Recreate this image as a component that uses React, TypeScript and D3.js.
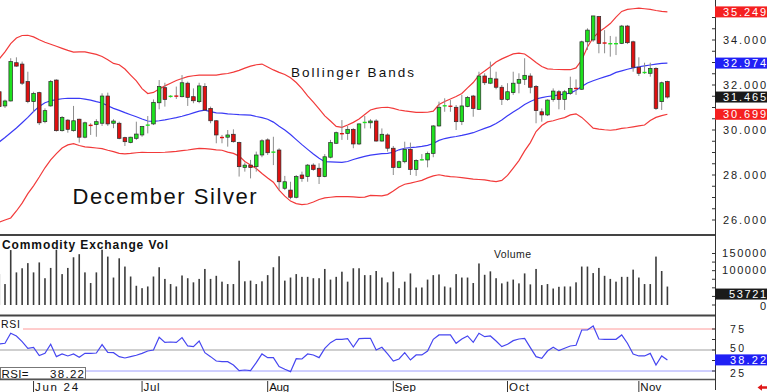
import React from "react";
import * as d3 from "d3";

// bar index -1 is the partly hidden candle at the left edge
const firstIndex = -1;
const lastIndex = 116;

const opens = [
  31.70, 31.07, 31.29, 32.99, 32.93, 32.15, 31.26, 31.66, 30.37, 31.07,
  32.22, 29.97, 30.44, 29.97, 30.48, 29.68, 30.21, 30.24, 30.30, 31.51,
  30.30, 30.30, 29.66, 29.44, 29.63, 29.78, 30.15, 30.27, 31.21, 31.88,
  31.48, 31.51, 31.48, 32.08, 31.48, 31.26, 31.93, 30.96, 30.41, 29.67,
  29.68, 29.81, 29.44, 28.34, 28.44, 28.37, 28.89, 29.56, 28.99, 29.11,
  27.41, 27.33, 27.01, 28.00, 27.93, 28.44, 28.30, 27.93, 28.79, 29.41,
  29.84, 29.85, 30.03, 29.38, 30.31, 30.32, 30.40, 29.51, 29.78, 29.19,
  28.34, 28.59, 29.14, 28.25, 28.65, 28.67, 28.96, 30.18, 31.05, 31.06,
  31.01, 30.37, 31.04, 31.51, 30.92, 32.40, 32.08, 32.27, 31.90, 31.36,
  31.66, 32.08, 32.25, 32.40, 31.93, 30.81, 30.67, 31.36, 31.70, 31.36,
  31.63, 31.85, 31.81, 33.92, 34.00, 35.04, 33.87, 33.81, 33.81, 33.85,
  34.62, 33.92, 32.79, 32.54, 32.52, 32.74, 31.26, 32.15,
];
const highs = [
  31.85, 31.35, 33.19, 33.23, 33.04, 32.59, 31.70, 31.70, 30.96, 32.22,
  32.25, 30.62, 30.48, 31.07, 30.50, 30.37, 30.30, 30.48, 31.63, 31.66,
  30.48, 30.37, 29.70, 29.70, 30.37, 30.18, 30.62, 31.36, 32.22, 32.10,
  31.55, 31.93, 32.44, 32.15, 31.85, 32.10, 32.08, 31.04, 30.44, 29.78,
  30.00, 30.03, 29.48, 28.55, 28.67, 29.04, 29.59, 29.63, 29.70, 29.19,
  27.96, 27.70, 28.00, 28.15, 28.49, 28.52, 28.52, 28.93, 29.56, 29.93,
  30.44, 30.18, 30.08, 30.30, 30.62, 30.48, 30.48, 30.07, 29.85, 29.29,
  28.64, 29.48, 29.44, 28.70, 28.93, 29.04, 30.22, 31.26, 31.41, 31.33,
  31.11, 31.56, 31.51, 31.56, 32.59, 32.52, 33.04, 32.59, 32.00, 32.08,
  32.59, 32.52, 33.19, 32.52, 32.00, 30.96, 31.36, 31.85, 31.78, 31.78,
  32.37, 32.25, 33.97, 34.52, 35.07, 35.07, 34.44, 34.18, 34.15, 34.67,
  34.67, 33.97, 33.23, 32.99, 32.99, 32.79, 32.15, 32.19,
];
const lows = [
  30.95, 30.98, 31.27, 32.81, 32.00, 31.19, 30.81, 30.22, 30.30, 31.04,
  29.93, 29.93, 29.88, 29.93, 29.44, 29.63, 29.78, 29.70, 30.18, 30.18,
  30.08, 29.59, 29.29, 29.41, 29.56, 29.70, 29.85, 30.22, 30.92, 31.04,
  31.44, 31.38, 31.45, 31.07, 31.19, 31.19, 30.86, 30.30, 29.41, 29.41,
  29.26, 29.44, 27.93, 28.15, 27.85, 28.15, 28.79, 28.89, 28.44, 27.33,
  27.33, 26.92, 26.96, 27.70, 27.70, 28.19, 27.60, 27.90, 28.74, 29.38,
  29.56, 29.56, 29.19, 29.33, 30.07, 30.07, 29.48, 29.48, 29.04, 28.00,
  28.30, 28.52, 28.00, 27.96, 28.64, 28.34, 28.79, 30.15, 30.81, 30.81,
  30.00, 30.22, 31.01, 30.59, 30.89, 32.00, 32.04, 31.81, 31.11, 31.30,
  31.56, 31.63, 32.00, 31.63, 30.30, 30.37, 30.62, 31.26, 30.92, 30.89,
  31.56, 31.56, 31.78, 33.56, 33.92, 33.41, 33.41, 33.26, 33.33, 33.82,
  33.82, 32.59, 32.40, 32.49, 32.37, 30.89, 30.89, 31.40,
];
const closes = [
  31.04, 31.29, 33.04, 32.84, 32.08, 31.26, 31.63, 30.32, 30.86, 32.15,
  29.97, 30.56, 30.03, 30.41, 29.68, 30.32, 30.15, 30.37, 31.51, 30.27,
  30.40, 29.63, 29.48, 29.68, 29.82, 30.15, 30.22, 31.23, 31.93, 31.36,
  31.50, 31.47, 32.10, 31.45, 31.30, 31.96, 30.89, 30.41, 29.78, 29.61,
  29.78, 29.48, 28.37, 28.44, 28.33, 28.89, 29.52, 28.99, 29.02, 27.70,
  27.70, 27.01, 27.93, 27.85, 28.44, 28.25, 27.93, 28.81, 29.44, 29.88,
  29.81, 30.03, 29.38, 30.27, 30.34, 30.40, 29.51, 29.81, 29.19, 28.34,
  28.59, 29.14, 28.25, 28.64, 28.68, 28.96, 30.18, 31.01, 31.08, 31.02,
  30.37, 31.07, 31.45, 30.96, 32.40, 32.10, 32.30, 31.90, 31.36, 31.70,
  32.08, 32.25, 32.43, 31.90, 30.86, 30.67, 31.33, 31.73, 31.36, 31.70,
  31.85, 31.78, 33.92, 34.44, 35.07, 33.85, 33.83, 33.84, 33.84, 34.62,
  33.88, 32.79, 32.52, 32.56, 32.74, 30.96, 32.10, 31.465,
];

const upperBand = [
  33.16, 33.47, 33.84, 34.09, 34.20, 34.21, 34.14, 34.01, 33.90, 33.81,
  33.72, 33.63, 33.54, 33.46, 33.47, 33.47, 33.42, 33.36, 33.27, 33.12,
  32.96, 32.90, 32.71, 32.44, 32.18, 31.84, 31.62, 31.67, 31.82, 31.96,
  32.08, 32.20, 32.29, 32.37, 32.41, 32.44, 32.44, 32.44, 32.44, 32.48,
  32.51, 32.57, 32.65, 32.75, 32.84, 32.90, 32.93, 32.80, 32.67, 32.56,
  32.47, 32.32, 32.11, 31.84, 31.52, 31.24, 30.94, 30.63, 30.40, 30.16,
  30.12, 30.22, 30.34, 30.49, 30.69, 30.89, 30.96, 31.00, 31.01, 30.96,
  30.89, 30.85, 30.82, 30.78, 30.78, 30.79, 30.84, 31.13, 31.27, 31.38,
  31.49, 31.62, 31.87, 32.11, 32.44, 32.62, 32.81, 33.02, 33.16, 33.27,
  33.38, 33.42, 33.38, 33.20, 33.00, 32.82, 32.72, 32.70, 32.69, 32.68,
  32.68, 32.76, 33.11, 33.69, 34.10, 34.36, 34.53, 34.73, 35.02, 35.27,
  35.36, 35.39, 35.42, 35.39, 35.36, 35.31, 35.27, 35.249,
];
const middleBand = [
  29.47, 29.67, 29.88, 30.09, 30.32, 30.56, 30.82, 31.05, 31.21, 31.30,
  31.35, 31.39, 31.41, 31.41, 31.41, 31.37, 31.33, 31.26, 31.20, 31.08,
  30.96, 30.87, 30.77, 30.68, 30.59, 30.49, 30.40, 30.38, 30.41, 30.45,
  30.50, 30.55, 30.61, 30.68, 30.76, 30.84, 30.88, 30.82, 30.76, 30.75,
  30.72, 30.70, 30.68, 30.67, 30.66, 30.60, 30.55, 30.48, 30.35, 30.17,
  30.00, 29.80, 29.57, 29.35, 29.14, 28.93, 28.74, 28.59, 28.58, 28.57,
  28.56, 28.60, 28.69, 28.76, 28.83, 28.88, 28.92, 28.95, 28.96, 29.01,
  29.12, 29.19, 29.22, 29.24, 29.27, 29.32, 29.40, 29.54, 29.62, 29.67,
  29.71, 29.76, 29.82, 29.88, 29.98, 30.07, 30.16, 30.29, 30.44, 30.63,
  30.80, 30.96, 31.13, 31.27, 31.38, 31.44, 31.49, 31.52, 31.56, 31.60,
  31.64, 31.77, 31.93, 32.09, 32.19, 32.28, 32.36, 32.44, 32.56, 32.63,
  32.70, 32.76, 32.81, 32.85, 32.89, 32.93, 32.96, 32.974,
];
const lowerBand = [
  25.91, 26.00, 26.09, 26.40, 26.75, 27.17, 27.52, 27.91, 28.32, 28.67,
  28.95, 29.20, 29.34, 29.39, 29.31, 29.25, 29.23, 29.20, 29.17, 29.10,
  29.04, 28.96, 28.94, 28.96, 28.99, 29.01, 29.00, 29.00, 29.00, 29.01,
  29.03, 29.05, 29.08, 29.11, 29.15, 29.18, 29.17, 29.15, 29.12, 29.10,
  29.02, 28.96, 28.84, 28.60, 28.44, 28.29, 28.07, 27.87, 27.68, 27.33,
  27.06, 26.84, 26.73, 26.68, 26.71, 26.80, 26.91, 26.98, 27.01, 27.04,
  27.04, 27.04, 27.03, 27.01, 27.02, 27.09, 27.08, 27.07, 27.13, 27.29,
  27.47, 27.59, 27.64, 27.70, 27.76, 27.87, 27.96, 28.01, 27.96, 27.93,
  27.91, 27.88, 27.85, 27.82, 27.80, 27.78, 27.74, 27.71, 27.76, 27.98,
  28.31, 28.64, 29.07, 29.44, 29.93, 30.20, 30.36, 30.41, 30.49, 30.55,
  30.67, 30.72, 30.56, 30.33, 30.08, 30.04, 30.01, 29.99, 30.02, 30.07,
  30.10, 30.14, 30.18, 30.22, 30.42, 30.56, 30.64, 30.699,
];

const volumes = [
  90000, 61000, 160000, 95000, 107000, 122000, 95000, 124000, 78000, 108000,
  161000, 90000, 108000, 139000, 148000, 95000, 64000, 95000, 161000, 141000,
  80000, 136000, 112000, 83000, 56000, 49000, 54000, 83000, 110000, 76000,
  61000, 54000, 86000, 78000, 66000, 76000, 105000, 76000, 85000, 68000,
  61000, 61000, 129000, 69000, 71000, 61000, 69000, 87000, 110000, 142000,
  71000, 80000, 90000, 82000, 82000, 78000, 78000, 105000, 74000, 82000,
  97000, 68000, 107000, 107000, 87000, 87000, 99000, 80000, 66000, 97000,
  49000, 68000, 92000, 51000, 51000, 74000, 87000, 89000, 54000, 51000,
  90000, 80000, 80000, 64000, 121000, 88000, 98000, 78000, 63000, 68000,
  74000, 63000, 92000, 60000, 105000, 58000, 61000, 48000, 53000, 54000,
  54000, 66000, 112000, 112000, 93000, 108000, 85000, 76000, 68000, 82000,
  82000, 103000, 80000, 61000, 61000, 141000, 99000, 53721,
];

const rsi = [
  57.2, 58.0, 69.9, 66.7, 59.9, 52.0, 53.2, 43.3, 46.0, 56.8,
  42.1, 45.3, 42.9, 45.3, 41.3, 46.0, 46.0, 46.4, 56.4, 47.2,
  46.8, 42.1, 40.5, 42.1, 43.7, 46.0, 48.8, 50.0, 65.1, 59.1,
  59.5, 59.1, 64.7, 54.8, 54.0, 60.7, 46.8, 42.1, 36.9, 36.1,
  36.1, 32.2, 25.4, 26.2, 25.4, 34.9, 45.3, 40.9, 40.9, 30.2,
  27.0, 24.2, 39.7, 39.3, 45.3, 44.1, 40.9, 52.0, 58.7, 62.7,
  62.7, 63.5, 53.6, 63.5, 63.9, 63.9, 50.0, 53.2, 45.3, 36.9,
  39.3, 46.8, 38.1, 44.1, 44.1, 48.8, 62.7, 67.9, 67.9, 67.9,
  58.0, 63.1, 66.7, 59.1, 69.9, 65.9, 66.7, 60.7, 54.0, 56.8,
  61.1, 63.1, 63.9, 52.8, 42.1, 40.1, 48.8, 53.2, 49.2, 52.0,
  54.8, 55.6, 73.8, 73.8, 78.6, 63.1, 62.7, 62.7, 62.7, 67.9,
  58.0, 45.3, 42.9, 42.9, 46.0, 32.2, 42.9, 38.22,
];

const monthLabels = ["Jun 24", "Jul", "Aug", "Sep", "Oct", "Nov"];
const monthStarts = [5, 24, 46, 68, 88, 111];
const monthLabelWidths = [43, 16, 20, 21, 20, 21];

const priceTicks = [26, 28, 30, 32, 34];
const volumeTicks = [0, 100000, 150000];
const rsiTicks = [25, 50, 75];

const FONT = "'Liberation Sans', Arial, sans-serif";
const AXIS_X = 715;

export default function App() {
  const bars = d3.range(firstIndex, lastIndex + 1);
  const x = d3.scaleLinear().domain([0, lastIndex]).range([5, 667.4]);
  const yP = d3.scaleLinear().domain([26, 34]).range([220, 40]);
  const yV = d3.scaleLinear().domain([0, 150000]).range([305, 253.5]);
  const yR = d3.scaleLinear().domain([25, 75]).range([371, 329]);

  const bandLine = d3
    .line<number>()
    .x((_, k) => x(bars[k]))
    .y((v) => yP(v));
  const rsiLine = d3
    .line<number>()
    .x((_, k) => x(bars[k]))
    .y((v) => yR(v));

  const last = bars.length - 1;
  const fmt3 = d3.format(".3f");

  const boxLabel = (yc: number, text: string, bg: string, w: number) => (
    <g key={text}>
      <rect x={AXIS_X} y={yc - 5.5} width={52} height={11} fill={bg} />
      <text
        x={766}
        y={yc + 4}
        textAnchor="end"
        fontSize={11}
        fill="#fff"
        textLength={w}
        lengthAdjust="spacing"
      >
        {text}
      </text>
    </g>
  );

  // nudges for the RSI scale labels, which crowd the last-value box
  const rsiLabelDy: Record<number, number> = { 25: 5.5, 50: 1.5, 75: 3.5 };

  return (
    <svg
      width={768}
      height={392}
      style={{ position: "absolute", left: 0, top: 0, background: "#fff" }}
      fontFamily={FONT}
    >
      <defs>
        <clipPath id="price-clip">
          <rect x={0} y={0} width={AXIS_X} height={234} />
        </clipPath>
        <clipPath id="low-clip">
          <rect x={0} y={236} width={AXIS_X} height={156} />
        </clipPath>
      </defs>
      <rect x={0} y={0} width={768} height={392} fill="#fff" />

      {/* price panel */}
      <g clipPath="url(#price-clip)">
        <path d={bandLine(upperBand) || ""} fill="none" stroke="#f23a3a" strokeWidth={1.2} />
        <path d={bandLine(lowerBand) || ""} fill="none" stroke="#f23a3a" strokeWidth={1.2} />
        <path d={bandLine(middleBand) || ""} fill="none" stroke="#3a3af5" strokeWidth={1.2} />
        {bars.map((b, k) => {
          const cx = x(b);
          const o = opens[k];
          const c = closes[k];
          const up = c >= o;
          const col = up ? "#1ee11e" : "#e01010";
          const top = yP(Math.max(o, c));
          const bot = yP(Math.min(o, c));
          const h = bot - top;
          return (
            <g key={b}>
              <line
                x1={cx}
                x2={cx}
                y1={yP(highs[k])}
                y2={yP(lows[k])}
                stroke="#8c8c8c"
                strokeWidth={1}
              />
              {h < 1.6 ? (
                <rect x={cx - 2} y={top - 0.6} width={4} height={1.4} fill={col} />
              ) : (
                <rect
                  x={cx - 1.8}
                  y={top}
                  width={3.6}
                  height={h}
                  fill={col}
                  stroke="#2a2a2a"
                  strokeWidth={0.7}
                />
              )}
            </g>
          );
        })}
      </g>
      <text x={291} y={76.5} fontSize={13.5} fill="#111" textLength={123} lengthAdjust="spacing">
        Bollinger Bands
      </text>
      <text x={72.5} y={204} fontSize={22} fill="#111" textLength={184} lengthAdjust="spacing">
        December Silver
      </text>

      {/* volume panel */}
      <g clipPath="url(#low-clip)">
        {bars.map((b, k) => (
          <rect
            key={b}
            x={x(b) - 0.8}
            y={yV(volumes[k])}
            width={1.6}
            height={yV(0) - yV(volumes[k])}
            fill="#3c3c3c"
          />
        ))}
      </g>
      <text
        x={2}
        y={248.5}
        fontSize={12}
        fontWeight="bold"
        fill="#111"
        textLength={166}
        lengthAdjust="spacing"
      >
        Commodity Exchange Vol
      </text>
      <text x={494} y={258} fontSize={10.5} fill="#222" textLength={37} lengthAdjust="spacing">
        Volume
      </text>

      {/* RSI panel */}
      <line x1={0} x2={AXIS_X} y1={yR(75)} y2={yR(75)} stroke="#ff9a9a" strokeWidth={1} />
      <line x1={0} x2={AXIS_X} y1={yR(50)} y2={yR(50)} stroke="#cfcfcf" strokeWidth={2} />
      <line x1={0} x2={AXIS_X} y1={yR(25)} y2={yR(25)} stroke="#a0a0ff" strokeWidth={1} />
      <g clipPath="url(#low-clip)">
        <path d={rsiLine(rsi) || ""} fill="none" stroke="#4646f0" strokeWidth={1.2} />
      </g>
      <rect x={0} y={318} width={23} height={12} fill="#fff" />
      <text x={1} y={327.5} fontSize={10.5} fill="#111" textLength={19} lengthAdjust="spacing">
        RSI
      </text>
      <rect x={0.5} y={367.5} width={85} height={11.5} fill="#fff" stroke="#777" strokeWidth={1} />
      <text x={1.5} y={377.5} fontSize={11.5} fill="#111" textLength={27} lengthAdjust="spacing">
        RSI=
      </text>
      <text x={84} y={377.5} fontSize={11.5} fill="#111" textAnchor="end" textLength={34} lengthAdjust="spacing">
        {rsi[last].toFixed(2)}
      </text>

      {/* panel separators */}
      <line x1={0} x2={AXIS_X} y1={235} y2={235} stroke="#444" strokeWidth={2} />
      <line x1={0} x2={AXIS_X} y1={315.5} y2={315.5} stroke="#444" strokeWidth={2} />
      <line x1={0} x2={AXIS_X} y1={379.5} y2={379.5} stroke="#555" strokeWidth={1.5} />
      <line x1={AXIS_X + 0.5} x2={AXIS_X + 0.5} y1={0} y2={390} stroke="#333" strokeWidth={1} />

      {/* date axis */}
      {monthStarts.map((m, k) => (
        <g key={m}>
          <line x1={x(m)} x2={x(m)} y1={381} y2={392} stroke="#333" strokeWidth={1} />
          <text
            x={x(m) + 1.5}
            y={391}
            fontSize={11.5}
            fill="#111"
            textLength={monthLabelWidths[k]}
            lengthAdjust="spacing"
          >
            {monthLabels[k]}
          </text>
        </g>
      ))}

      {/* right axis: price */}
      {d3.range(26, 35.5, 0.5).map((t) => (
        <line key={"pt" + t} x1={AXIS_X - 3} x2={AXIS_X} y1={yP(t)} y2={yP(t)} stroke="#333" />
      ))}
      {priceTicks.map((t) => (
        <text key={"p" + t} x={766} y={yP(t) + 4} textAnchor="end" fontSize={11} fill="#222" textLength={43} lengthAdjust="spacing">
          {fmt3(t)}
        </text>
      ))}
      {boxLabel(yP(upperBand[last]), fmt3(upperBand[last]), "#f52020", 43)}
      {boxLabel(yP(middleBand[last]), fmt3(middleBand[last]), "#2020f5", 43)}
      {boxLabel(yP(closes[last]), fmt3(closes[last]), "#1a1a1a", 43)}
      {boxLabel(yP(lowerBand[last]), fmt3(lowerBand[last]), "#f52020", 43)}

      {/* right axis: volume */}
      {d3.range(0, 175000, 25000).map((t) => (
        <line key={"vt" + t} x1={AXIS_X - 3} x2={AXIS_X} y1={yV(t)} y2={yV(t)} stroke="#333" />
      ))}
      {volumeTicks.map((t) => (
        <text
          key={"v" + t}
          x={766}
          y={t === 0 ? yV(t) + 5 : yV(t) + 3}
          textAnchor="end"
          fontSize={11}
          fill="#222"
          textLength={t === 0 ? undefined : 44}
          lengthAdjust="spacing"
        >
          {t}
        </text>
      ))}
      {/* the last-volume box sits a little under its value in the original */}
      {boxLabel(yV(volumes[last]) + 7.5, String(volumes[last]), "#1a1a1a", 37)}

      {/* right axis: RSI */}
      {d3.range(25, 80, 12.5).map((t) => (
        <line key={"rt" + t} x1={AXIS_X - 3} x2={AXIS_X} y1={yR(t)} y2={yR(t)} stroke="#333" />
      ))}
      {rsiTicks.map((t) => (
        <text
          key={"r" + t}
          x={730}
          y={yR(t) + rsiLabelDy[t]}
          fontSize={10.5}
          fill="#222"
          textLength={14}
          lengthAdjust="spacing"
        >
          {t}
        </text>
      ))}
      {boxLabel(yR(rsi[last]), rsi[last].toFixed(2), "#2020f5", 36)}

      {/* small red arrow, bottom right */}
      <path d="M757.5,387.5 L762,384.2 L762,386.3 L767,386.3 L767,388.7 L762,388.7 L762,390.8 Z" fill="#e01818" />
    </svg>
  );
}
